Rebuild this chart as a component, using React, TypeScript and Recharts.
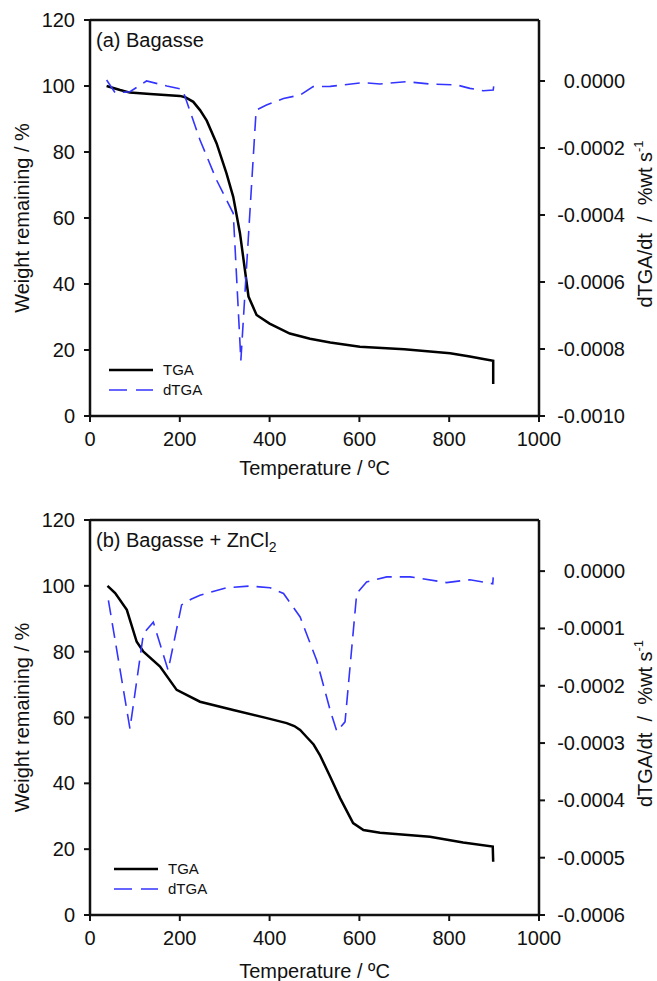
import React from 'react';
import { ComposedChart, Line, XAxis, YAxis, ReferenceLine, Legend } from 'recharts';

const FONT = '"Liberation Sans", Arial, Helvetica, sans-serif';
const BLUE = '#3434ff';
const INK = '#111';

const temperatureTicks = [0, 200, 400, 600, 800, 1000];
const weightTicks = [0, 20, 40, 60, 80, 100, 120];
const rateTicksA = [-0.001, -0.0008, -0.0006, -0.0004, -0.0002, 0];
const rateTicksB = [-0.0006, -0.0005, -0.0004, -0.0003, -0.0002, -0.0001, 0];

// Panel (a) Bagasse
const tgaATemp = [37, 67, 89, 134, 200, 212, 230, 245, 260, 282, 304, 319, 334, 353, 371, 400, 445, 490, 535, 601, 700, 802, 846, 870, 898, 898];
const tgaAWeight = [100, 98.8, 98, 97.6, 97, 96.6, 95.2, 92.7, 89.5, 82.6, 73.5, 66.4, 55.4, 36.2, 30.6, 28, 25, 23.4, 22.3, 21, 20.2, 19, 18, 17.4, 16.7, 9.7];
const dtgaATemp = [37, 56, 89, 126, 171, 206, 245, 282, 319, 323, 336, 370, 393, 431, 468, 497, 535, 609, 646, 705, 757, 817, 846, 876, 898, 900];
const dtgaARate = [0.000003, -0.000035, -0.000032, 0, -0.000015, -0.000025, -0.000176, -0.000296, -0.000395, -0.000495, -0.000834, -0.000087, -0.000072, -0.000052, -0.000042, -0.000017, -0.000016, -0.000005, -0.000009, -0.000002, -0.000009, -0.000012, -0.000022, -0.000029, -0.000027, -0.000007];

// Panel (b) Bagasse + ZnCl2
const tgaBTemp = [39, 56, 82, 104, 119, 156, 193, 215, 245, 319, 394, 438, 455, 468, 483, 498, 512, 535, 557, 586, 609, 646, 757, 831, 897, 898];
const tgaBWeight = [100, 97.8, 92.7, 83, 80, 75.5, 68.4, 66.9, 64.8, 62.3, 59.8, 58.3, 57.4, 56.2, 54, 51.8, 48.6, 42, 35.5, 27.9, 25.8, 25, 23.8, 22, 20.8, 16.2];
const dtgaBTemp = [41, 89, 119, 141, 174, 204, 225, 245, 304, 356, 401, 431, 468, 505, 535, 550, 568, 594, 616, 661, 713, 794, 846, 897, 898];
const dtgaBRate = [-0.000051, -0.000275, -0.000109, -0.000089, -0.000173, -0.000059, -0.000049, -0.000042, -0.000029, -0.000026, -0.000029, -0.000039, -0.00008, -0.000156, -0.000243, -0.00028, -0.000263, -0.000039, -0.000019, -0.00001, -0.00001, -0.00002, -0.000015, -0.000022, -0.000011];

const toPoints = (temps: number[], values: number[]) => temps.map((t, i) => ({ t, v: values[i] }));

const LegendBox = (props: any) => {
  const items = props.payload || [];
  return (
    <svg width={100} height={44} style={{ display: 'block', overflow: 'visible' }}>
      {items.map((entry: any, i: number) => {
        const dashed = entry.value === 'dTGA';
        const cy = 10 + i * 20;
        return (
          <g key={entry.value}>
            <line x1={0} x2={44} y1={cy} y2={cy} stroke={entry.color} strokeWidth={dashed ? 1.6 : 2.5} strokeDasharray={dashed ? '18 9' : undefined} />
            <text x={54} y={cy} dy="0.35em" fontSize={15} fontFamily={FONT} fill={INK}>{entry.value}</text>
          </g>
        );
      })}
    </svg>
  );
};

const RightTick = (props: any) => {
  const { x, y, payload } = props;
  return (
    <text x={x + 68} y={y} dy="0.35em" textAnchor="end" fontSize={20} fontFamily={FONT} fill={INK}>
      {Number(payload.value).toFixed(4)}
    </text>
  );
};

type PanelProps = {
  top: number;
  height: number;
  margin: { top: number; right: number; bottom: number; left: number };
  title: React.ReactNode;
  tga: { t: number; v: number }[];
  dtga: { t: number; v: number }[];
  rateDomain: [number, number];
  rateTicks: number[];
  legendPos: { left: number; top: number };
  xTitleDy: number;
};

function Panel(p: PanelProps) {
  return (
    <div style={{ position: 'absolute', left: 0, top: p.top }}>
      <ComposedChart width={657} height={p.height} margin={p.margin}>
        <XAxis
          type="number"
          dataKey="t"
          domain={[0, 1000]}
          ticks={temperatureTicks}
          height={50}
          axisLine={{ stroke: INK, strokeWidth: 2.5 }}
          tickLine={{ stroke: INK, strokeWidth: 2 }}
          tickSize={6}
          tickMargin={10}
          tick={{ fontSize: 20, fontFamily: FONT, fill: INK }}
          label={(lp: any) => {
            const vb = lp.viewBox;
            return (
              <text x={vb.x + vb.width / 2} y={vb.y + p.xTitleDy} textAnchor="middle" fontSize={20} fontFamily={FONT} fill={INK}>
                Temperature / ºC
              </text>
            );
          }}
        />
        <YAxis
          yAxisId="w"
          orientation="left"
          type="number"
          domain={[0, 120]}
          ticks={weightTicks}
          width={90}
          axisLine={{ stroke: INK, strokeWidth: 2.5 }}
          tickLine={{ stroke: INK, strokeWidth: 2 }}
          tickSize={6}
          tickMargin={9}
          tick={{ fontSize: 20, fontFamily: FONT, fill: INK }}
          label={(lp: any) => {
            const vb = lp.viewBox;
            const cx = vb.x + 29;
            const cy = vb.y + vb.height / 2;
            return (
              <text x={cx} y={cy} transform={`rotate(-90 ${cx} ${cy})`} textAnchor="middle" fontSize={20} fontFamily={FONT} fill={INK}>
                Weight remaining / %
              </text>
            );
          }}
        />
        <YAxis
          yAxisId="r"
          orientation="right"
          type="number"
          domain={p.rateDomain}
          ticks={p.rateTicks}
          width={108}
          allowDataOverflow
          axisLine={{ stroke: INK, strokeWidth: 2.5 }}
          tickLine={{ stroke: INK, strokeWidth: 2 }}
          tickSize={6}
          tickMargin={12}
          tick={<RightTick />}
          label={(lp: any) => {
            const vb = lp.viewBox;
            const cx = vb.x + 113;
            const cy = vb.y + vb.height / 2 + 6;
            return (
              <text x={cx} y={cy} transform={`rotate(-90 ${cx} ${cy})`} textAnchor="middle" fontSize={20} fontFamily={FONT} fill={INK} style={{ whiteSpace: 'pre' }}>
                {'dTGA/dt  /  %wt s'}
                <tspan dy={-9} fontSize={13}>-1</tspan>
              </text>
            );
          }}
        />
        <ReferenceLine
          yAxisId="w"
          y={120}
          stroke={INK}
          strokeWidth={2.5}
          label={(lp: any) => {
            const vb = lp.viewBox;
            return (
              <text x={vb.x + 6} y={vb.y + 27} fontSize={20} fontFamily={FONT} fill={INK}>
                {p.title}
              </text>
            );
          }}
        />
        <Line
          yAxisId="w"
          data={p.tga}
          dataKey="v"
          name="TGA"
          type="linear"
          stroke="#000"
          strokeWidth={2.5}
          dot={false}
          activeDot={false}
          isAnimationActive={false}
          legendType="line"
        />
        <Line
          yAxisId="r"
          data={p.dtga}
          dataKey="v"
          name="dTGA"
          type="linear"
          stroke={BLUE}
          strokeWidth={1.6}
          strokeDasharray="15 8"
          dot={false}
          activeDot={false}
          isAnimationActive={false}
          legendType="line"
        />
        <Legend
          layout="horizontal"
          verticalAlign="middle"
          align="center"
          content={<LegendBox />}
          wrapperStyle={{ position: 'absolute', left: p.legendPos.left, top: p.legendPos.top, width: 100, height: 44, bottom: 'auto', right: 'auto' }}
        />
      </ComposedChart>
    </div>
  );
}

export default function App() {
  return (
    <div style={{ position: 'absolute', left: 0, top: 0, width: 657, height: 981, background: '#fff', overflow: 'hidden' }}>
      <Panel
        top={0}
        height={490}
        margin={{ top: 20, right: 10, bottom: 24, left: 0 }}
        title="(a) Bagasse"
        tga={toPoints(tgaATemp, tgaAWeight)}
        dtga={toPoints(dtgaATemp, dtgaARate)}
        rateDomain={[-0.001, 0.000182]}
        rateTicks={rateTicksA}
        legendPos={{ left: 109, top: 360 }}
        xTitleDy={59}
      />
      <Panel
        top={490}
        height={491}
        margin={{ top: 30, right: 10, bottom: 16, left: 0 }}
        title={
          <>
            {'(b) Bagasse + ZnCl'}
            <tspan dy={5} fontSize={14}>2</tspan>
          </>
        }
        tga={toPoints(tgaBTemp, tgaBWeight)}
        dtga={toPoints(dtgaBTemp, dtgaBRate)}
        rateDomain={[-0.0006, 0.0000892]}
        rateTicks={rateTicksB}
        legendPos={{ left: 114, top: 369 }}
        xTitleDy={63}
      />
    </div>
  );
}
